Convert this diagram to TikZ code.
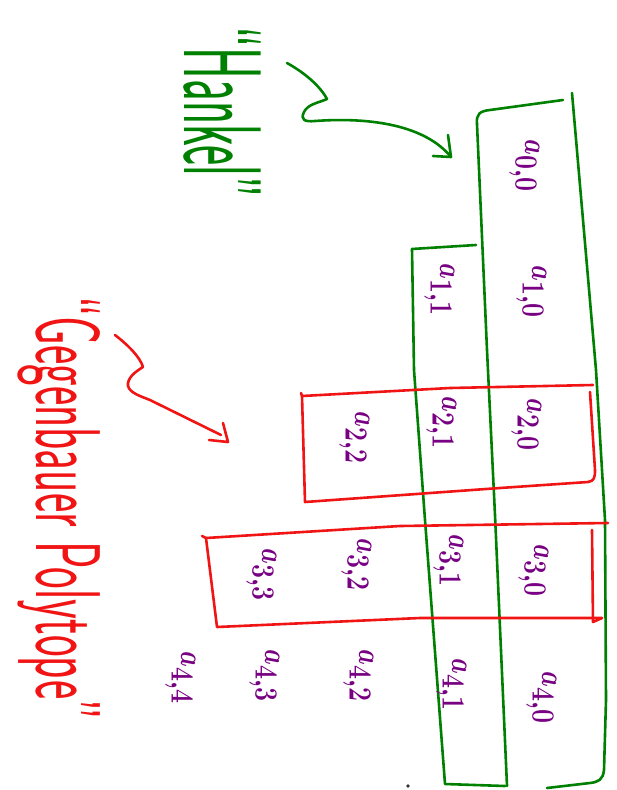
\documentclass[tikz,border=0pt]{standalone}
\usepackage{fontspec}
\usepackage{graphicx}
\definecolor{hgreen}{RGB}{0,128,0}
\definecolor{hred}{RGB}{240,20,20}
\definecolor{hpurple}{RGB}{120,0,130}
\tikzset{
  pen/.style={line width=2.6pt, line cap=round, line join=round},
  gpen/.style={pen, draw=hgreen},
  rpen/.style={pen, draw=hred},
  lab/.style={text=hpurple, rotate=-90, anchor=base, inner sep=0pt,
    font=\fontsize{57}{60}\selectfont\boldmath},
  word/.style={rotate=-90, anchor=base, inner sep=0pt}
}
\newcommand{\lbl}[1]{\scalebox{1}[1.3]{$a_{#1}$}}
\begin{document}
\begin{tikzpicture}[x=1pt,y=-1pt]
\useasboundingbox (0,0) rectangle (617,790);
% green Hankel columns
\draw[gpen] (477,124) .. controls (476,114) and (480,111) .. (490,110) -- (563,100);
\draw[gpen] (477,124) -- (487,350) -- (495,515) -- (507,786);
\draw[gpen] (572,93) -- (596,370) -- (605,520) -- (606,700) -- (604,770) .. controls (603,780) and (598,782) .. (590,783) -- (547,788);
\draw[gpen] (412,249) -- (476,245);
\draw[gpen] (412,249) -- (414,370) -- (425,520) -- (445,784) -- (505,786);
% red Gegenbauer boxes
\draw[rpen] (301,393) -- (302,396) -- (305,502) -- (500,488) -- (588,482) .. controls (594,481) and (595,478) .. (595,470) -- (590,392);
\draw[rpen] (302,396) -- (450,388) -- (593,385);
\draw[rpen] (202,536) -- (206,538) -- (217,627) -- (420,618) -- (602,618);
\draw[rpen] (602,618) -- (593,622) -- (592,530);
\draw[rpen] (206,538) -- (400,526) -- (608,523);
% labels
\node[lab] (a00) at (525,166) {\lbl{0,0}};
\node[lab] (a10) at (532,292) {\lbl{1,0}};
\node[lab] (a11) at (440,290) {\lbl{1,1}};
\node[lab] (a20) at (527,425) {\lbl{2,0}};
\node[lab] (a21) at (442,423) {\lbl{2,1}};
\node[lab] (a22) at (355,438) {\lbl{2,2}};
\node[lab] (a30) at (534,571) {\lbl{3,0}};
\node[lab] (a31) at (449,561) {\lbl{3,1}};
\node[lab] (a32) at (357,565) {\lbl{3,2}};
\node[lab] (a33) at (262,575) {\lbl{3,3}};
\node[lab] (a40) at (542,698) {\lbl{4,0}};
\node[lab] (a41) at (452,685) {\lbl{4,1}};
\node[lab] (a42) at (359,676) {\lbl{4,2}};
\node[lab] (a43) at (265,676) {\lbl{4,3}};
\node[lab, font=\fontsize{42}{46}\selectfont\boldmath] (a44) at (181,678) {\lbl{4,4}};
\fill[black!80] (408,786) circle (1.8pt);
% words
\node[word, text=hgreen, font=\sffamily\fontsize{48}{50}\selectfont] (hankel) at (184,112) {\scalebox{1}[2.3]{“Hankel”}};
\node[word, text=hred, font=\sffamily\fontsize{46}{50}\selectfont] (gegen) at (36,508) {\scalebox{1}[2]{“Gegenbauer Polytope”}};
% green arrow
\coordinate (gs) at (287,63);
\coordinate (ge) at (451,157);
\draw[gpen] (gs) .. controls (305,73) and (320,86) .. (327,99)
  .. controls (318,103) and (308,104) .. (304,112)
  .. controls (300,120) and (305,122) .. (315,121)
  .. controls (370,117) and (425,125) .. (ge);
\draw[gpen] (448,135) -- (ge) -- (433,156);
% red arrow
\coordinate (rs) at (115,335);
\coordinate (re) at (228,442);
\draw[rpen] (rs) .. controls (128,345) and (140,357) .. (143,367)
  .. controls (135,372) and (127,378) .. (128,386)
  .. controls (130,393) and (140,396) .. (150,400) -- (221,435);
\draw[rpen] (223,423) -- (re) -- (209,440);
\end{tikzpicture}
\end{document}
